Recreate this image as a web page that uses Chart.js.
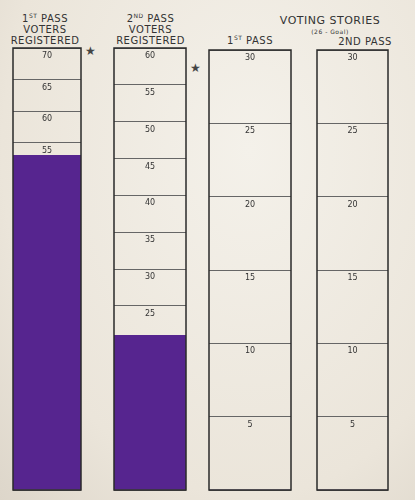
<!DOCTYPE html>
<html><head><meta charset="utf-8">
<script src="https://cdn.jsdelivr.net/npm/chart.js@4/dist/chart.umd.min.js"></script>
<style>
html,body{margin:0;padding:0;}
body{width:415px;height:500px;position:relative;overflow:hidden;
background:radial-gradient(ellipse at 60% 30%,#f4f1ea 0%,#ebe5da 70%,#ddd6ca 100%);
font-family:"DejaVu Sans",sans-serif;color:#333;}
.t{position:absolute;text-align:center;font-size:10px;line-height:11px;letter-spacing:0.5px;}
.c{position:absolute;}
.star{position:absolute;font-size:12px;color:#444;}
sup{font-size:6px;line-height:0;vertical-align:4px;}
</style></head><body>
<div class="t" style="left:5px;top:13px;width:80px">1<sup>ST</sup> PASS<br>VOTERS<br>REGISTERED</div>
<div class="t" style="left:108px;top:13px;width:85px">2<sup>ND</sup> PASS<br>VOTERS<br>REGISTERED</div>
<div class="t" style="left:265px;top:16px;width:130px;font-size:11px;line-height:10px">VOTING STORIES<br><span style="font-size:6px">(26 - Goal)</span></div>
<div class="t" style="left:215px;top:35px;width:70px">1<sup>ST</sup> PASS</div>
<div class="t" style="left:325px;top:36px;width:80px">2ND PASS</div>
<div class="star" style="left:85px;top:44px">★</div>
<div class="star" style="left:190px;top:61px">★</div>
<div class="c" style="left:12px;top:47px;width:70px;height:444px"><canvas id="c1"></canvas></div>
<div class="c" style="left:113px;top:47px;width:74px;height:444px"><canvas id="c2"></canvas></div>
<div class="c" style="left:208px;top:49px;width:84px;height:442px"><canvas id="c3"></canvas></div>
<div class="c" style="left:316px;top:49px;width:73px;height:442px"><canvas id="c4"></canvas></div>
<script>
const categories = ["1st Pass Voters Registered","2nd Pass Voters Registered","Voting Stories 1st Pass","Voting Stories 2nd Pass"];
const values = [53, 21, 0, 0];
const maxima = [70, 60, 30, 30];
const steps = [5, 5, 5, 5];
const ids = ["c1","c2","c3","c4"];

const labelPlugin = {
  id:'lbl',
  beforeDatasetsDraw(chart){
    const {ctx, chartArea:a, scales:{y}} = chart;
    const st = chart.options.plugins.lbl.step;
    ctx.save();
    ctx.fillStyle='#333'; ctx.font='8px "DejaVu Sans"';
    ctx.textAlign='center'; ctx.textBaseline='top';
    for(let v=y.max; v>0; v-=st){
      ctx.fillText(String(v),(a.left+a.right)/2,y.getPixelForValue(v)+4);
    }
    ctx.restore();
  },
  afterDraw(chart){
    const {ctx, chartArea:a} = chart;
    ctx.save(); ctx.strokeStyle='#2a2a2a'; ctx.lineWidth=1.5;
    ctx.strokeRect(a.left,a.top,a.right-a.left,a.bottom-a.top);
    ctx.restore();
  }
};

ids.forEach((id,i)=>{
  new Chart(document.getElementById(id),{
    type:'bar',
    data:{labels:[categories[i]],datasets:[{data:[values[i]],backgroundColor:'#56258f',
      barPercentage:1,categoryPercentage:1}]},
    options:{responsive:true,maintainAspectRatio:false,animation:false,
      layout:{padding:1},
      plugins:{legend:{display:false},tooltip:{enabled:false},lbl:{step:steps[i]}},
      scales:{
        x:{display:false},
        y:{min:0,max:maxima[i],display:true,
           ticks:{display:false,stepSize:steps[i]},
           border:{display:false},
           grid:{color:'#666',lineWidth:1,drawTicks:false}}
      }},
    plugins:[labelPlugin]
  });
});
</script></body></html>
